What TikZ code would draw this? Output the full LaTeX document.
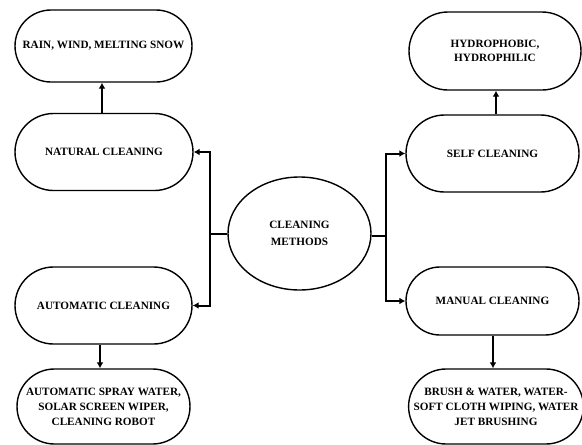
\documentclass[tikz,border=0pt]{standalone}
\usepackage{fontspec}
\setmainfont{Liberation Serif}
\usetikzlibrary{shapes.misc,shapes.geometric,arrows.meta}
\begin{document}
\begin{tikzpicture}[x=1pt,y=-1pt,
  pill/.style={rounded rectangle, draw=black, line width=1.4pt, inner sep=0pt, align=center,
    font=\fontsize{11.2}{15}\selectfont\bfseries},
  conn/.style={line width=2pt, -{Latex[length=6pt,width=7pt]}},
  plain/.style={line width=2pt}]
\useasboundingbox (0,0) rectangle (582,445);
\node[pill, minimum width=177pt, minimum height=72pt] (rain) at (103.5,46) {RAIN, WIND, MELTING SNOW};
\node[pill, minimum width=178pt, minimum height=77pt] (natural) at (104,152) {NATURAL CLEANING};
\node[pill, minimum width=177pt, minimum height=77pt] (auto) at (103.5,305.5) {AUTOMATIC CLEANING};
\node[pill, minimum width=173pt, minimum height=75pt] (spray) at (103.5,406.5) {AUTOMATIC SPRAY WATER,\\SOLAR SCREEN WIPER,\\CLEANING ROBOT};
\node[ellipse, draw=black, line width=1.4pt, inner sep=0pt, minimum width=143pt, minimum height=113pt, align=center,
  font=\fontsize{11.2}{17}\selectfont\bfseries] (cm) at (299.5,233.5) {CLEANING\\METHODS};
\node[pill, minimum width=172pt, minimum height=78pt, font=\fontsize{11.2}{14}\selectfont\bfseries] (hydro) at (495,51) {HYDROPHOBIC,\\HYDROPHILIC};
\node[pill, minimum width=173pt, minimum height=77pt] (self) at (492.5,153.5) {SELF CLEANING};
\node[pill, minimum width=173pt, minimum height=68pt] (manual) at (492.5,301) {MANUAL CLEANING};
\node[pill, minimum width=170pt, minimum height=75pt] (brush) at (496,406.5) {BRUSH \& WATER, WATER-\\SOFT CLOTH WIPING, WATER\\JET BRUSHING};
% left junction
\coordinate (jl) at (210,233.5);
\draw[plain] (cm.west) -- (jl);
\draw[conn] (jl) |- (natural.east);
\draw[conn] (jl) |- (auto.east);
% right junction
\coordinate (jr) at (386,236);
\draw[plain] (cm.east |- jr) -- (jr);
\draw[conn] (jr) |- (self.west);
\draw[conn] (jr) |- (manual.west);
% vertical arrows
\draw[conn] (natural.north -| 102,0) -- (rain.south -| 102,0);
\draw[conn] (auto.south -| 100,0) -- (spray.north -| 100,0);
\draw[conn] (self.north -| 496,0) -- (hydro.south -| 496,0);
\draw[conn] (manual.south -| 493,0) -- (brush.north -| 493,0);
\end{tikzpicture}
\end{document}
